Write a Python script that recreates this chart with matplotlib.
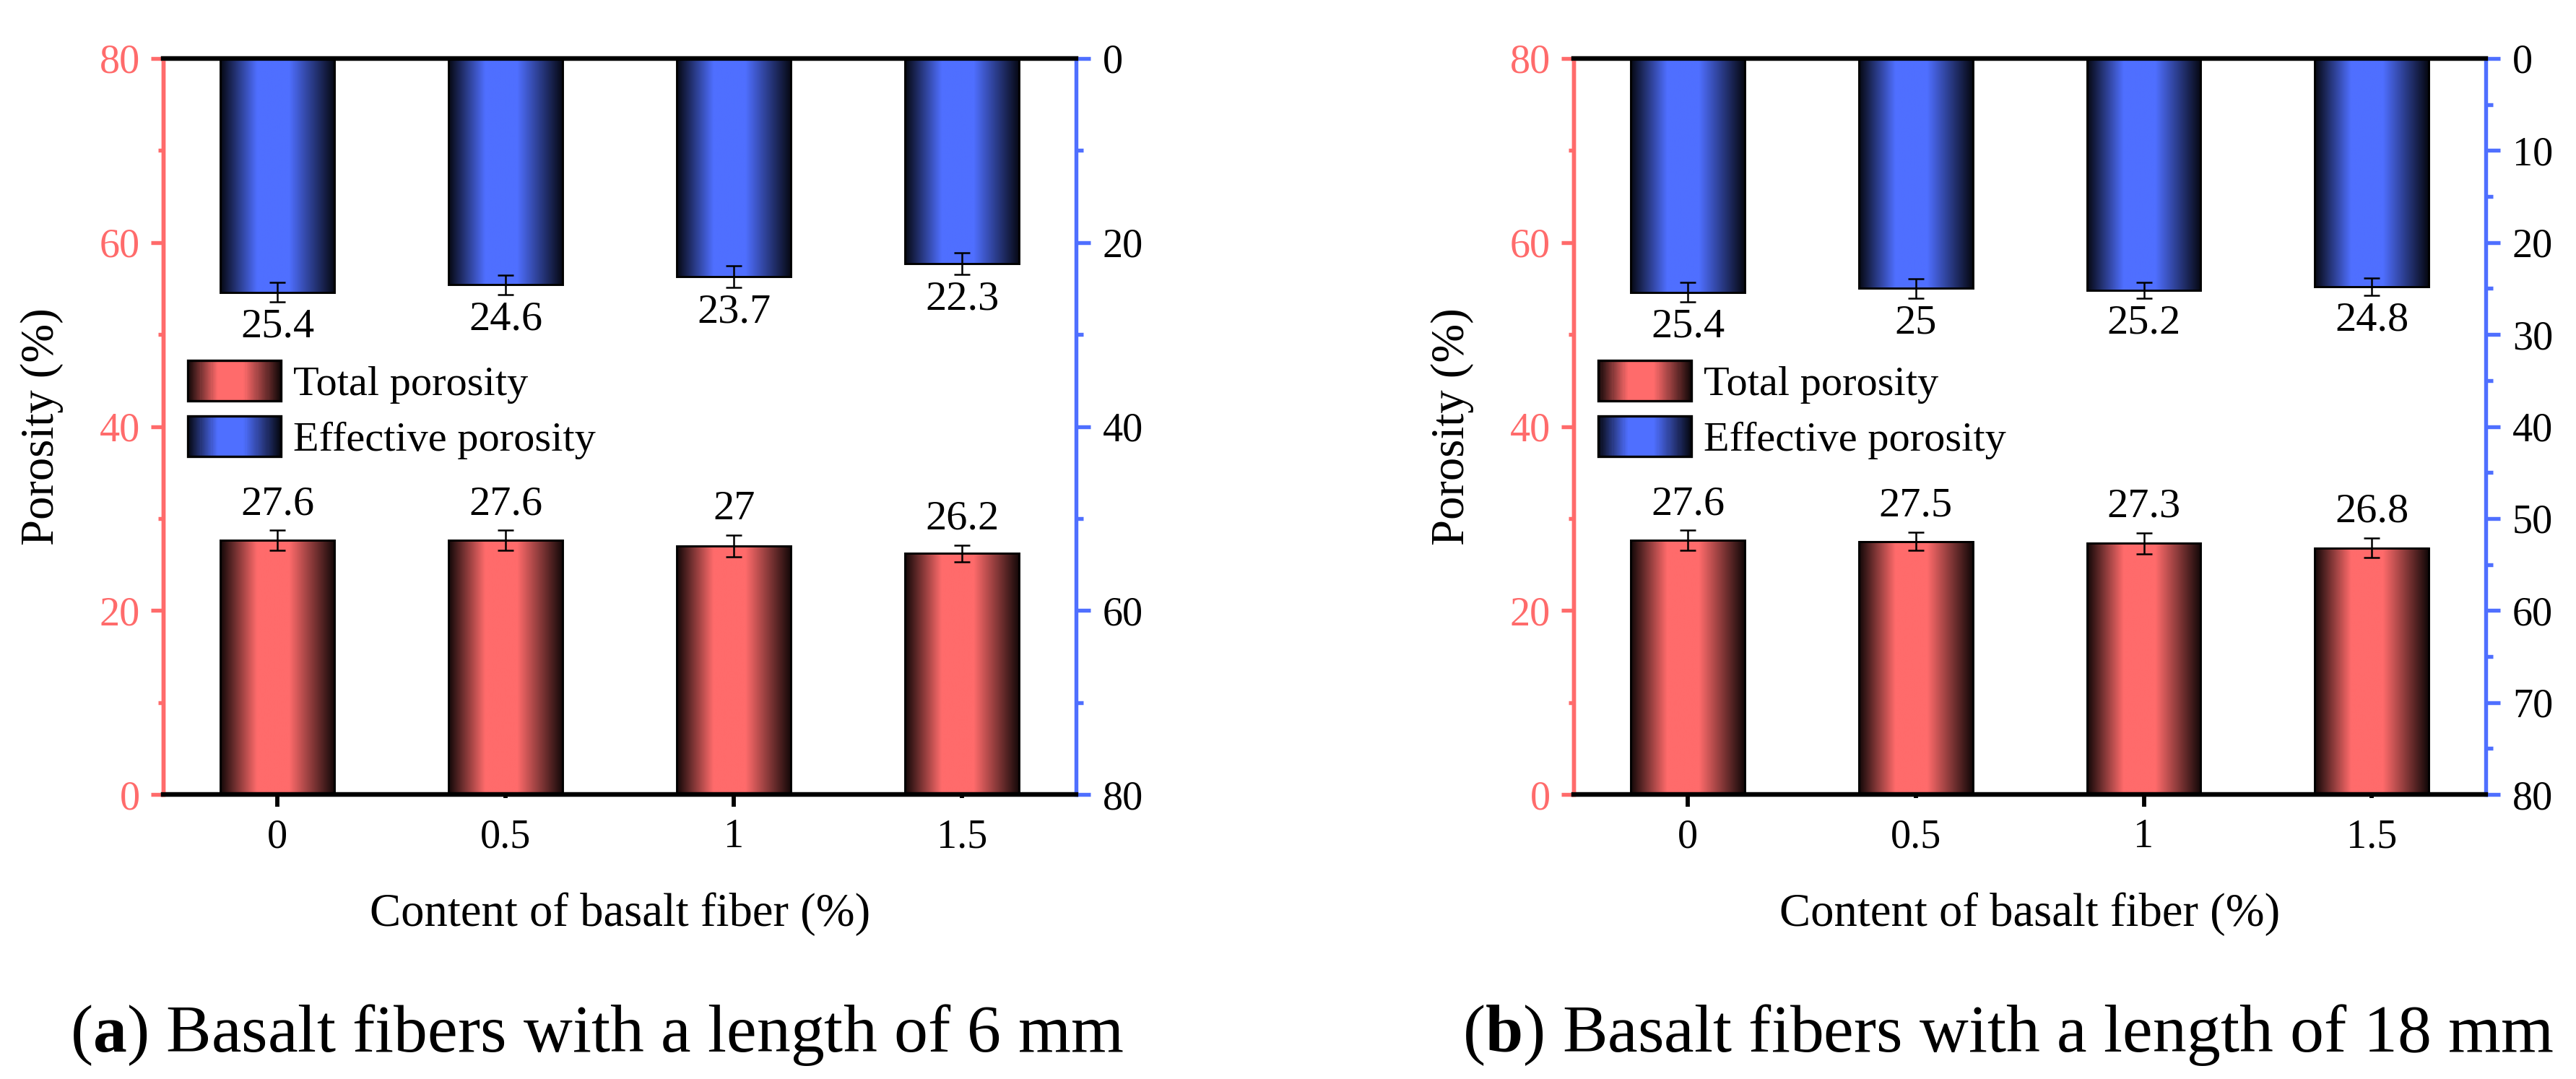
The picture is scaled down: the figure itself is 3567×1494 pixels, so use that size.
import numpy as np
import matplotlib
matplotlib.use("Agg")
import matplotlib.pyplot as plt
from matplotlib.legend_handler import HandlerBase
from matplotlib.patches import Rectangle
from matplotlib.colors import to_rgb
from matplotlib.ticker import MultipleLocator

plt.rcParams['font.family'] = ['Liberation Serif', 'DejaVu Serif']
plt.rcParams['mathtext.fontset'] = 'custom'
plt.rcParams['mathtext.rm'] = 'Liberation Serif'
plt.rcParams['mathtext.bf'] = 'Liberation Serif:bold'

# data
fiber_content = [0, 0.5, 1, 1.5]
tick_labels = ['0', '0.5', '1', '1.5']

total_6mm = [27.6, 27.6, 27.0, 26.2]
total_6mm_err = [1.1, 1.1, 1.15, 0.9]
effective_6mm = [25.4, 24.6, 23.7, 22.3]
effective_6mm_err = [1.05, 1.05, 1.2, 1.2]

total_18mm = [27.6, 27.5, 27.3, 26.8]
total_18mm_err = [1.1, 1.0, 1.15, 1.05]
effective_18mm = [25.4, 25.0, 25.2, 24.8]
effective_18mm_err = [1.05, 1.05, 0.85, 0.95]

RED = '#FF6B6B'
BLUE = '#4F6FFF'
BAR_W = 0.25

# brightness profile across a bar (dark edges, bright left of centre)
_knots = [0.0, 0.32, 0.6, 1.0]
_levels = [0.07, 1.0, 1.0, 0.07]


def shade(color, t):
    return tuple(np.array(to_rgb(color)) * np.interp(t, _knots, _levels))


def gradient_img(color, n=256):
    t = np.linspace(0, 1, n)
    return np.array([[shade(color, v) for v in t]])


class GradientHandler(HandlerBase):
    def __init__(self, color):
        super().__init__()
        self.color = color

    def create_artists(self, legend, orig_handle, xdescent, ydescent,
                       width, height, fontsize, trans):
        n = 60
        out = []
        for i in range(n):
            r = Rectangle((-xdescent + i * width / n, -ydescent), width / n * 1.1, height,
                          facecolor=shade(self.color, (i + 0.5) / n), edgecolor='none',
                          transform=trans)
            out.append(r)
        out.append(Rectangle((-xdescent, -ydescent), width, height, facecolor='none',
                             edgecolor='black', lw=0.8, transform=trans))
        return out


def fill_gradient(ax, bars, color):
    img = gradient_img(color)
    for b in bars:
        x0, y0 = b.get_x(), b.get_y()
        ax.imshow(img, extent=(x0, x0 + b.get_width(), y0, y0 + b.get_height()),
                  aspect='auto', zorder=1, interpolation='bilinear')


def draw_panel(ax, total, total_err, eff, eff_err, right_major, right_minor, caption, cx):
    ax2 = ax.twinx()

    bars_t = ax.bar(fiber_content, total, width=BAR_W, facecolor='none',
                    edgecolor='black', linewidth=0.7, zorder=2)
    fill_gradient(ax, bars_t, RED)
    ax.errorbar(fiber_content, total, yerr=total_err, fmt='none', ecolor='black',
                elinewidth=0.6, capsize=2.6, capthick=0.6, zorder=3)
    for x, v, e in zip(fiber_content, total, total_err):
        ax.annotate(f'{v:g}', xy=(x, v + e), xytext=(0, 2.5), textcoords='offset points',
                    ha='center', va='bottom', fontsize=14)

    bars_e = ax2.bar(fiber_content, eff, width=BAR_W, facecolor='none',
                     edgecolor='black', linewidth=0.7, zorder=2)
    fill_gradient(ax2, bars_e, BLUE)
    ax2.errorbar(fiber_content, eff, yerr=eff_err, fmt='none', ecolor='black',
                 elinewidth=0.6, capsize=2.6, capthick=0.6, zorder=3)
    for x, v, e in zip(fiber_content, eff, eff_err):
        ax2.annotate(f'{v:g}', xy=(x, v + e), xytext=(0, -2), textcoords='offset points',
                     ha='center', va='top', fontsize=14)

    ax.set_xlim(-0.25, 1.75)
    ax.set_ylim(0, 80)
    ax2.set_ylim(80, 0)

    # x axis: major at 0, 1 ; minor at 0.5, 1.5 (all labelled)
    ax.set_xticks(fiber_content[::2], tick_labels[::2])
    ax.set_xticks(fiber_content[1::2], tick_labels[1::2], minor=True)
    ax.tick_params(axis='x', which='major', direction='out', length=4, width=1.4,
                   labelsize=13.5, pad=4, color='black')
    ax.tick_params(axis='x', which='minor', direction='out', length=1.3, width=1.4,
                   labelsize=13.5, pad=6.7, color='black')

    ax.yaxis.set_major_locator(MultipleLocator(20))
    ax.yaxis.set_minor_locator(MultipleLocator(10))
    ax.tick_params(axis='y', which='major', direction='out', length=4.2, width=1.3,
                   color=RED, labelcolor=RED, labelsize=13.5, pad=3.5)
    ax.tick_params(axis='y', which='minor', direction='out', length=1.8, width=1.3, color=RED)

    ax2.yaxis.set_major_locator(MultipleLocator(right_major))
    ax2.yaxis.set_minor_locator(MultipleLocator(right_minor))
    ax2.tick_params(axis='y', which='major', direction='out', length=4.8, width=1.3,
                    color=BLUE, labelcolor='black', labelsize=13.5, pad=4)
    ax2.tick_params(axis='y', which='minor', direction='out', length=2.4, width=1.3, color=BLUE)

    for a in (ax, ax2):
        a.spines['top'].set_color('black')
        a.spines['bottom'].set_color('black')
        a.spines['top'].set_linewidth(1.5)
        a.spines['bottom'].set_linewidth(1.5)
        a.spines['left'].set_color(RED)
        a.spines['left'].set_linewidth(1.3)
        a.spines['right'].set_color(BLUE)
        a.spines['right'].set_linewidth(1.3)
    ax.spines['right'].set_visible(False)

    ax.set_xlabel('Content of basalt fiber (%)', fontsize=15.5, labelpad=12)
    ax.set_ylabel('Porosity (%)', fontsize=15.5, labelpad=12)

    h_t = Rectangle((0, 0), 1, 1)
    h_e = Rectangle((0, 0), 1, 1)
    ax2.legend([h_t, h_e], ['Total porosity', 'Effective porosity'],
               handler_map={h_t: GradientHandler(RED), h_e: GradientHandler(BLUE)},
               loc='upper left', bbox_to_anchor=(0.027, 0.59), frameon=False,
               fontsize=14, handlelength=2.2, handleheight=1.1, labelspacing=0.3,
               handletextpad=0.3, borderpad=0, borderaxespad=0)

    ax.figure.text(cx, 0.041, caption, ha='center', va='center', fontsize=22.5)


fig = plt.figure(figsize=(3567 / 300, 1494 / 300), dpi=300)
ax_a = fig.add_axes([0.0634, 0.2637, 0.3544, 0.6821])
ax_b = fig.add_axes([0.6109, 0.2637, 0.3541, 0.6821])

draw_panel(ax_a, total_6mm, total_6mm_err, effective_6mm, effective_6mm_err, 20, 10,
           r'($\mathbf{a}$) Basalt fibers with a length of 6 mm', 0.2316)
draw_panel(ax_b, total_18mm, total_18mm_err, effective_18mm, effective_18mm_err, 10, 5,
           r'($\mathbf{b}$) Basalt fibers with a length of 18 mm', 0.7794)

fig.savefig('out.png', dpi=300)
